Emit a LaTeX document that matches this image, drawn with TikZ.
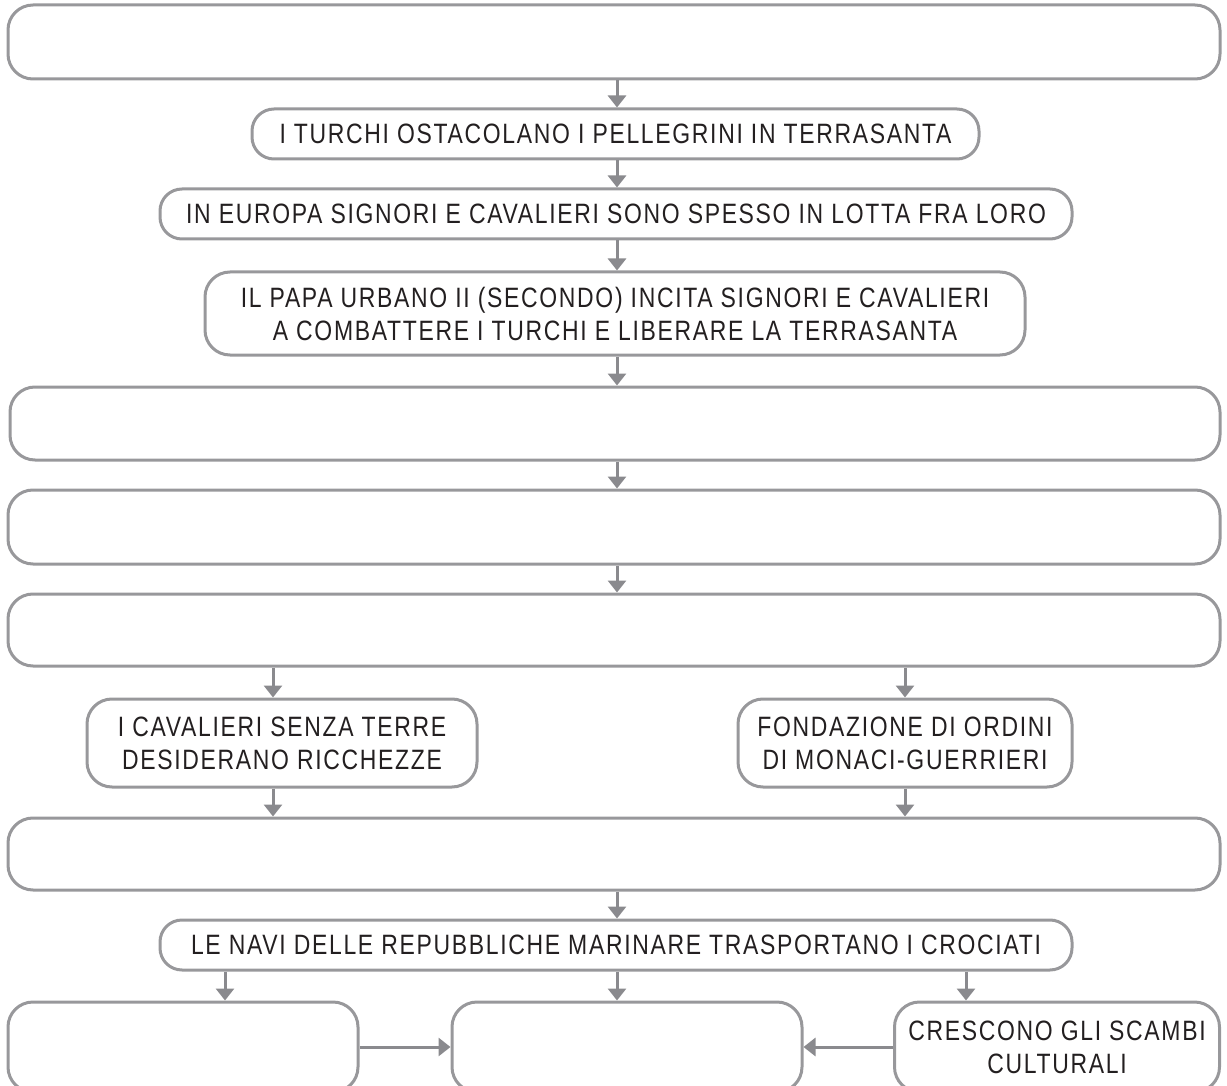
\documentclass[tikz,border=0pt]{standalone}
\usepackage{fontspec}
\setmainfont[FakeStretch=0.82,LetterSpace=6]{Liberation Sans}
\usetikzlibrary{arrows.meta}
\definecolor{boxgray}{RGB}{152,152,155}
\definecolor{arrgray}{RGB}{138,138,142}
\definecolor{txt}{RGB}{35,31,32}
\tikzset{
  bx/.style={draw=boxgray, line width=3pt, rounded corners=25pt, rectangle,
    inner sep=0pt, align=center, text=txt, font=\fontsize{28}{33}\selectfont},
  arr/.style={draw=arrgray, line width=3pt, -{Triangle[width=18pt,length=12pt]}}
}
\begin{document}
\begin{tikzpicture}[x=1pt,y=-1pt]
\useasboundingbox (0,0) rectangle (1227,1086);
\clip (0,0) rectangle (1227,1086);
\coordinate (col) at (617,0);
\node[bx, minimum width=1212, minimum height=74] (B1) at (614,42) {};
\node[bx, minimum width=727, minimum height=50, rounded corners=22pt] (B2) at (615.5,134) {I TURCHI OSTACOLANO I PELLEGRINI IN TERRASANTA};
\node[bx, minimum width=912, minimum height=50, rounded corners=22pt] (B3) at (616,214) {IN EUROPA SIGNORI E CAVALIERI SONO SPESSO IN LOTTA FRA LORO};
\node[bx, minimum width=820, minimum height=83] (B4) at (615,313.5) {IL PAPA URBANO II (SECONDO) INCITA SIGNORI E CAVALIERI\\A COMBATTERE I TURCHI E LIBERARE LA TERRASANTA};
\node[bx, minimum width=1210, minimum height=73] (B5) at (615,423.5) {};
\node[bx, minimum width=1212, minimum height=74] (B6) at (614,527) {};
\node[bx, minimum width=1212, minimum height=72] (B7) at (614,630) {};
\node[bx, minimum width=390, minimum height=88] (B8a) at (282,743) {I CAVALIERI SENZA TERRE\\DESIDERANO RICCHEZZE};
\node[bx, minimum width=334, minimum height=88] (B8b) at (905,743) {FONDAZIONE DI ORDINI\\DI MONACI-GUERRIERI};
\node[bx, minimum width=1212, minimum height=72] (B9) at (614,854) {};
\node[bx, minimum width=912, minimum height=50, rounded corners=22pt] (B10) at (616,945) {LE NAVI DELLE REPUBBLICHE MARINARE TRASPORTANO I CROCIATI};
\node[bx, minimum width=350, minimum height=90] (B11a) at (183,1047) {};
\node[bx, minimum width=350, minimum height=90] (B11b) at (627,1047) {};
\node[bx, minimum width=325, minimum height=90] (B11c) at (1057,1047) {CRESCONO GLI SCAMBI\\CULTURALI};
\coordinate (c8a) at (273,0);
\coordinate (c11a) at (225,0);
\coordinate (c11c) at (966,0);
\draw[arr] (B1.south -| col) -- (B2.north -| col);
\draw[arr] (B2.south -| col) -- (B3.north -| col);
\draw[arr] (B3.south -| col) -- (B4.north -| col);
\draw[arr] (B4.south -| col) -- (B5.north -| col);
\draw[arr] (B5.south -| col) -- (B6.north -| col);
\draw[arr] (B6.south -| col) -- (B7.north -| col);
\draw[arr] (B7.south -| c8a) -- (B8a.north -| c8a);
\draw[arr] (B7.south -| B8b.north) -- (B8b.north);
\draw[arr] (B8a.south -| c8a) -- (B9.north -| c8a);
\draw[arr] (B8b.south) -- (B9.north -| B8b.south);
\draw[arr] (B9.south -| col) -- (B10.north -| col);
\draw[arr] (B10.south -| c11a) -- (B11a.north -| c11a);
\draw[arr] (B10.south -| col) -- (B11b.north -| col);
\draw[arr] (B10.south -| c11c) -- (B11c.north -| c11c);
\draw[arr] (B11a.east) -- (B11b.west);
\draw[arr] (B11c.west) -- (B11b.east);
\end{tikzpicture}
\end{document}
